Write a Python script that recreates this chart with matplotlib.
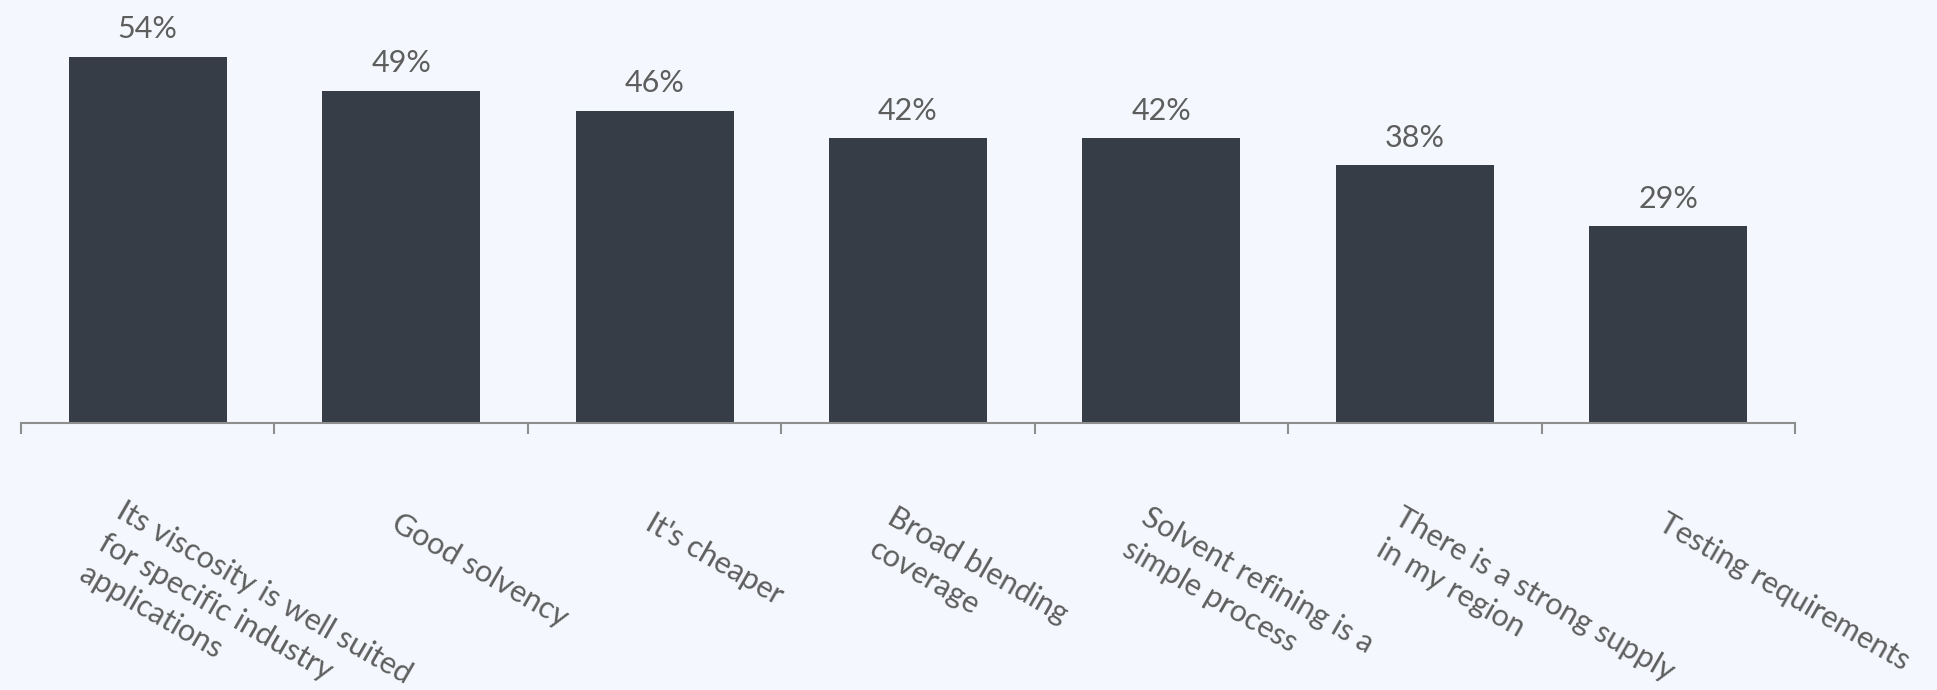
import matplotlib
matplotlib.use("Agg")
import matplotlib.pyplot as plt
import numpy as np

# Survey data: reasons given, share of respondents (%)
categories = [
    "Its viscosity is well suited\nfor specific industry\napplications",
    "Good solvency",
    "It's cheaper",
    "Broad blending\ncoverage",
    "Solvent refining is a\nsimple process",
    "There is a strong supply\nin my region",
    "Testing requirements",
]
values = [54, 49, 46, 42, 42, 38, 29]
value_labels = ["54%", "49%", "46%", "42%", "42%", "38%", "29%"]

BG = "#f4f7fd"
BAR = "#363d46"
AXIS = "#8e8e8e"
TEXT = "#5e5e5e"

plt.rcParams["font.family"] = ["Lato", "DejaVu Sans"]

W, H, DPI = 1937, 690, 100
fig = plt.figure(figsize=(W / DPI, H / DPI), dpi=DPI, facecolor=BG)
ax = fig.add_axes([21 / W, (H - 423) / H, (1795 - 21) / W, 423 / H])
ax.set_facecolor(BG)

x = np.arange(len(values))
ax.bar(x, values, width=0.624, color=BAR, edgecolor="none", zorder=2)

ax.set_xlim(-0.5, len(values) - 0.5)
ax.set_ylim(0, 62.4)

for s in ("top", "right", "left"):
    ax.spines[s].set_visible(False)
ax.spines["bottom"].set_color(AXIS)
ax.spines["bottom"].set_linewidth(1.5)
ax.set_yticks([])
ax.set_xticks(np.arange(-0.5, len(values)))
ax.set_xticklabels([])
ax.tick_params(axis="x", length=8, width=1.5, color=AXIS, direction="out")

# value labels above each bar
for xi, v, lab in zip(x, values, value_labels):
    ax.annotate(lab, xy=(xi, v), xytext=(0, 13.5), textcoords="offset points",
                ha="center", va="baseline", fontsize=22, color=TEXT)

# rotated category labels below the axis; wrapped labels start a little
# earlier along the slant so their block stays centred under the tick
angle = 30
back = np.array([-np.cos(np.radians(angle)), np.sin(np.radians(angle))])
for xi, cat in zip(x, categories):
    extra = cat.count("\n")
    dx, dy = back * 9 * extra
    ax.annotate(cat, xy=(xi, 0), xycoords=("data", "axes fraction"),
                xytext=(dx, -62 + dy), textcoords="offset points",
                ha="left", va="top", rotation=-angle, rotation_mode="anchor",
                fontsize=22, color=TEXT, linespacing=1.38)

fig.savefig("out.png", dpi=DPI, facecolor=BG)
